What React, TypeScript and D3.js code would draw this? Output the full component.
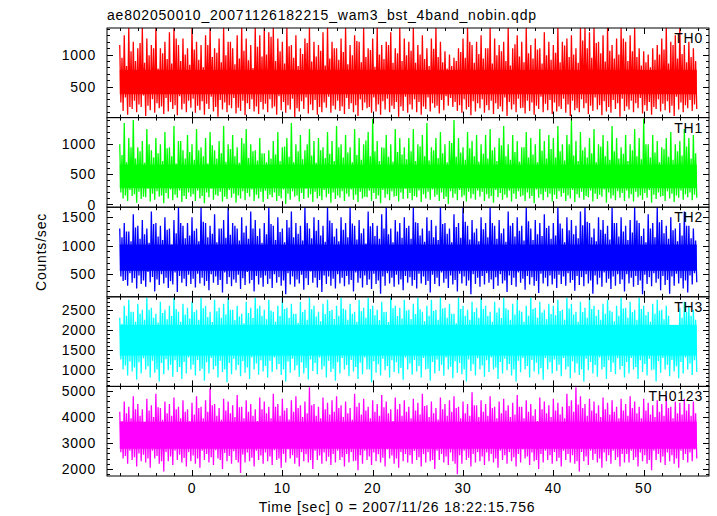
import React from "react";
import * as d3 from "d3";

// ---------- data (half-second bins from t = -8 s) ----------
// per bin: highest spike, secondary peak, secondary trough, lowest dip
const T_START = -8;
const BIN = 0.5;

const panelNames = ["TH0", "TH1", "TH2", "TH3", "TH0123"];
const panelColors = ["#ff0000", "#00ff00", "#0000ff", "#00ffff", "#ff00ff"];
const yDomains: [number, number][] = [
  [15, 1415],
  [-45, 1440],
  [105, 1675],
  [575, 2825],
  [1730, 5180],
];
const yTickValues = [
  [500, 1000],
  [0, 500, 1000],
  [500, 1000, 1500],
  [1000, 1500, 2000, 2500],
  [2000, 3000, 4000, 5000],
];
const yMinorSteps = [100, 100, 100, 100, 200];
// always-filled centre of each light curve [low, high]
const coreBands: [number, number][] = [
  [380, 760],
  [270, 660],
  [560, 1020],
  [1350, 2120],
  [2780, 3820],
];

const th0Max = [
  1150, 1300, 1415, 1200, 1100, 1415, 1250, 1150, 1415, 1100, 1200, 1350, 1415, 1150, 1250, 1100,
  1415, 1200, 1150, 1300, 1415, 1100, 1250, 1415, 1200, 1100, 1300, 1415, 1250, 1150, 1415, 1300,
  1415, 1350, 1415, 1250, 1200, 1415, 1150, 1300, 1100, 1250, 1415, 1200, 1150, 1350, 1415, 1200,
  1100, 1250, 1415, 1150, 1300, 1200, 1415, 1100, 1250, 1415, 1150, 1200, 1350, 1100, 1415, 1250,
  1200, 1415, 1150, 1300, 1100, 1250, 1415, 1200, 1050, 1000, 950, 1100, 1250, 1415, 1150, 1200,
  1300, 1100, 1415, 1250, 1150, 1200, 1415, 1100, 1300, 1200, 1415, 1150, 1250, 1100, 1350, 1200,
  1150, 1415, 1200, 1250, 1300, 1100, 1415, 1415, 1350, 1415, 1200, 1300, 1415, 1150, 1250, 1415,
  1200, 1300, 1415, 1100, 1050, 1000, 1100, 1150, 1250, 1415, 1200, 1300, 1415, 1150, 1200, 1100,
];
const th0Hi = [
  950, 820, 1050, 900, 1180, 870, 990, 1100, 780, 1020, 930, 860, 1250, 900, 1000, 840,
  1080, 920, 800, 1150, 960, 1030, 880, 990, 1200, 850, 940, 1060, 910, 790, 1120, 970,
  1000, 1280, 900, 1050, 860, 1130, 950, 820, 1010, 1180, 890, 970, 1060, 830, 940, 1100,
  920, 1040, 850, 990, 1210, 880, 960, 1070, 810, 1000, 930, 1150, 870, 1020, 900, 990,
  1060, 870, 1000, 930, 820, 1090, 960, 880, 780, 820, 900, 1040, 950, 1200, 870, 1010,
  940, 1100, 860, 990, 1050, 900, 830, 1160, 970, 880, 1020, 940, 1080, 860, 990, 920,
  1030, 880, 1140, 960, 1000, 870, 1220, 1100, 950, 1180, 1020, 890, 1060, 940, 1000, 1250,
  900, 1050, 960, 830, 880, 800, 920, 1000, 1080, 860, 1150, 940, 1010, 880, 960, 900,
];
const th0Lo = [
  250, 330, 180, 280, 220, 360, 200, 300, 240, 190, 320, 260, 210, 350, 230, 280,
  310, 200, 270, 230, 340, 180, 290, 250, 210, 320, 170, 280, 240, 300, 190, 260,
  230, 300, 190, 350, 260, 210, 310, 160, 270, 330, 220, 290, 180, 250, 340, 200,
  280, 190, 320, 240, 210, 300, 250, 180, 330, 220, 270, 310, 200, 260, 190, 340,
  220, 300, 260, 190, 330, 240, 200, 290, 350, 320, 260, 210, 300, 180, 270, 240,
  300, 210, 280, 240, 190, 330, 260, 220, 310, 170, 280, 250, 200, 340, 230, 290,
  250, 190, 310, 220, 280, 160, 300, 240, 200, 330, 210, 270, 180, 290, 240, 310,
  190, 280, 240, 320, 210, 260, 180, 300, 230, 270, 200, 340, 250, 210, 290, 220,
];
const th0Min = [
  120, 60, 150, 100, 180, 40, 130, 90, 160, 70, 110, 150, 50, 140, 100, 170,
  90, 130, 60, 150, 110, 30, 140, 100, 160, 80, 120, 50, 150, 110, 70, 140,
  100, 160, 60, 130, 90, 140, 20, 110, 150, 80, 130, 60, 100, 170, 90, 140,
  120, 70, 150, 100, 40, 130, 160, 90, 110, 60, 140, 100, 150, 30, 120, 90,
  140, 100, 60, 150, 110, 170, 80, 130, 200, 180, 120, 90, 140, 50, 110, 160,
  90, 130, 70, 150, 110, 40, 140, 100, 160, 80, 120, 60, 150, 100, 130, 70,
  110, 150, 90, 40, 130, 100, 160, 70, 120, 140, 50, 110, 90, 150, 30, 120,
  140, 100, 160, 80, 120, 60, 150, 110, 130, 90, 40, 140, 100, 160, 120, 150,
];
const th1Max = [
  1000, 1350, 1100, 1400, 950, 1050, 1250, 900, 1100, 1000, 1200, 950, 1300, 1050, 900, 1150,
  1000, 1250, 950, 1100, 1200, 900, 1050, 1300, 1000, 1150, 950, 1100, 1250, 1000, 900, 1100,
  850, 900, 1050, 1200, 950, 1100, 1350, 1000, 1150, 900, 1250, 1050, 1100, 950, 1200, 1050,
  1300, 1000, 1150, 950, 1250, 1100, 1000, 1200, 1420, 1050, 950, 1150, 1000, 1250, 1100, 950,
  1100, 1250, 1000, 1150, 1350, 950, 1100, 1200, 1000, 1050, 1400, 1100, 950, 1200, 1050, 1150,
  1000, 1150, 1250, 950, 1100, 1300, 1000, 1150, 1050, 950, 1200, 1100, 1000, 1250, 1050, 1150,
  1100, 1300, 1000, 1150, 1420, 1050, 1200, 950, 1100, 1250, 1000, 1150, 1050, 1300, 1100, 950,
  1150, 1000, 1250, 1100, 1420, 1000, 1150, 1050, 950, 1100, 1200, 1000, 1050, 1250, 1100, 1150,
];
const th1Hi = [
  820, 700, 950, 760, 880, 690, 1000, 780, 850, 720, 930, 800, 680, 1050, 760, 870,
  740, 900, 800, 680, 980, 760, 850, 710, 920, 800, 690, 1010, 770, 880, 730, 850,
  700, 760, 830, 720, 960, 790, 700, 880, 750, 1000, 810, 690, 900, 770, 840, 720,
  950, 780, 860, 700, 820, 740, 1060, 800, 880, 720, 940, 790, 710, 870, 830, 750,
  880, 720, 960, 800, 730, 900, 770, 850, 700, 1020, 790, 860, 740, 930, 800, 710,
  840, 760, 900, 720, 980, 800, 740, 870, 710, 950, 780, 830, 700, 890, 760, 920,
  780, 880, 730, 1000, 810, 720, 900, 780, 850, 700, 960, 800, 740, 880, 760, 840,
  720, 900, 800, 750, 1000, 780, 860, 700, 920, 790, 740, 880, 810, 960, 760, 850,
];
const th1Lo = [
  200, 150, 240, 170, 210, 130, 260, 180, 220, 150, 190, 250, 160, 230, 140, 200,
  170, 230, 140, 200, 260, 160, 210, 130, 240, 180, 150, 220, 190, 250, 160, 210,
  230, 160, 200, 140, 250, 180, 220, 150, 190, 260, 170, 210, 140, 240, 180, 200,
  150, 220, 180, 250, 160, 210, 130, 230, 190, 150, 240, 170, 220, 140, 200, 260,
  190, 140, 230, 170, 210, 250, 160, 200, 130, 220, 180, 240, 150, 210, 170, 230,
  210, 170, 140, 240, 190, 160, 230, 180, 220, 150, 200, 140, 250, 170, 210, 180,
  160, 220, 190, 150, 240, 170, 210, 140, 230, 180, 160, 250, 200, 150, 220, 190,
  230, 170, 210, 150, 190, 240, 160, 200, 140, 220, 180, 150, 230, 170, 200, 160,
];
const th1Min = [
  100, 60, 140, 30, 90, 120, 50, 80, 130, 20, 100, 70, 110, 40, 90, 130,
  60, 100, 20, 120, 80, 140, 50, 90, 110, 30, 100, 70, 130, 60, 100, 40,
  90, 120, 60, 100, 10, 80, 130, 50, 90, 110, 40, 100, 70, 120, 30, 90,
  110, 60, 130, 80, 40, 100, 120, 60, 90, 20, 110, 70, 130, 50, 90, 100,
  70, 120, 40, 100, 80, 130, 60, 90, 10, 110, 70, 120, 50, 100, 80, 130,
  60, 100, 30, 120, 80, 110, 50, 90, 130, 60, 100, 20, 110, 70, 120, 50,
  90, 130, 60, 100, 40, 110, 80, 120, 50, 90, 130, 30, 100, 70, 110, 60,
  100, 50, 120, 80, 110, 30, 90, 130, 60, 100, 40, 110, 80, 120, 70, 110,
];
const th2Max = [
  1300, 1400, 1250, 1550, 1350, 1450, 1300, 1600, 1400, 1350, 1500, 1300, 1450, 1675, 1350, 1400,
  1500, 1300, 1675, 1400, 1350, 1550, 1300, 1450, 1675, 1400, 1300, 1500, 1350, 1600, 1450, 1300,
  1400, 1675, 1350, 1500, 1300, 1450, 1600, 1400, 1350, 1675, 1300, 1500, 1450, 1350, 1675, 1400,
  1300, 1500, 1400, 1675, 1350, 1450, 1300, 1600, 1400, 1350, 1550, 1675, 1300, 1450, 1400, 1500,
  1350, 1675, 1400, 1300, 1500, 1450, 1350, 1675, 1400, 1300, 1550, 1400, 1675, 1350, 1450, 1300,
  1500, 1400, 1675, 1350, 1450, 1300, 1600, 1400, 1500, 1350, 1675, 1300, 1450, 1400, 1550, 1350,
  1400, 1675, 1300, 1500, 1450, 1350, 1600, 1675, 1400, 1300, 1500, 1450, 1350, 1675, 1400, 1500,
  1350, 1450, 1675, 1400, 1300, 1550, 1400, 1675, 1450, 1350, 1500, 1300, 1400, 1600, 1350, 1300,
];
const th2Hi = [
  1150, 1250, 1080, 1320, 1120, 1200, 1050, 1380, 1160, 1100, 1280, 1020, 1220, 1400, 1130, 1180,
  1260, 1080, 1420, 1150, 1210, 1060, 1300, 1140, 1190, 1350, 1090, 1230, 1120, 1300, 1170, 1050,
  1200, 1380, 1100, 1240, 1060, 1320, 1150, 1210, 1090, 1400, 1130, 1260, 1180, 1070, 1440, 1160,
  1080, 1280, 1150, 1390, 1110, 1220, 1040, 1340, 1170, 1120, 1300, 1200, 1060, 1250, 1140, 1310,
  1120, 1410, 1180, 1070, 1260, 1150, 1100, 1380, 1210, 1060, 1330, 1140, 1420, 1110, 1230, 1080,
  1290, 1150, 1400, 1120, 1220, 1070, 1350, 1160, 1260, 1090, 1430, 1100, 1200, 1170, 1310, 1120,
  1180, 1390, 1060, 1270, 1200, 1130, 1360, 1420, 1150, 1080, 1280, 1210, 1110, 1400, 1160, 1250,
  1100, 1230, 1440, 1170, 1060, 1300, 1150, 1410, 1220, 1120, 1270, 1080, 1180, 1350, 1130, 1090,
];
const th2Lo = [
  460, 400, 520, 430, 480, 390, 540, 450, 410, 500, 440, 380, 530, 470, 420, 490,
  420, 510, 440, 380, 500, 460, 400, 530, 450, 410, 490, 430, 540, 400, 470, 440,
  480, 420, 500, 450, 390, 520, 460, 410, 490, 430, 550, 440, 400, 480, 460, 420,
  500, 440, 470, 400, 530, 430, 480, 410, 510, 390, 460, 520, 440, 490, 410, 470,
  450, 400, 510, 460, 380, 490, 440, 530, 420, 480, 400, 510, 460, 390, 500, 440,
  470, 520, 410, 450, 500, 390, 480, 440, 530, 420, 470, 450, 380, 510, 440, 480,
  420, 490, 460, 520, 400, 470, 450, 500, 390, 480, 440, 530, 420, 460, 500, 410,
  500, 440, 470, 390, 490, 450, 520, 420, 470, 400, 460, 510, 430, 390, 480, 520,
];
const th2Min = [
  380, 300, 350, 250, 330, 280, 360, 200, 310, 340, 260, 320, 190, 350, 290, 330,
  270, 340, 300, 220, 350, 310, 180, 330, 290, 350, 240, 310, 340, 200, 320, 280,
  330, 260, 350, 300, 150, 320, 280, 340, 230, 310, 350, 270, 190, 330, 300, 250,
  340, 290, 320, 200, 350, 270, 310, 240, 330, 160, 300, 340, 280, 320, 220, 350,
  300, 250, 340, 310, 180, 330, 290, 350, 260, 320, 200, 340, 300, 150, 330, 280,
  320, 350, 240, 300, 340, 190, 310, 280, 350, 230, 320, 300, 170, 340, 290, 320,
  260, 330, 300, 350, 210, 310, 290, 340, 160, 320, 280, 350, 240, 300, 330, 200,
  340, 280, 310, 150, 330, 290, 350, 220, 310, 160, 300, 340, 250, 180, 320, 360,
];
const th3Max = [
  2300, 2600, 2750, 2450, 2650, 2500, 2800, 2550, 2400, 2700, 2500, 2600, 2800, 2450, 2650, 2550,
  2700, 2500, 2800, 2600, 2450, 2750, 2550, 2650, 2800, 2500, 2600, 2400, 2700, 2550, 2800, 2600,
  2500, 2750, 2450, 2600, 2800, 2550, 2650, 2400, 2700, 2500, 2800, 2600, 2450, 2650, 2750, 2500,
  2600, 2800, 2500, 2650, 2450, 2750, 2550, 2800, 2600, 2500, 2700, 2450, 2800, 2600, 2550, 2750,
  2500, 2650, 2800, 2450, 2600, 2750, 2500, 2800, 2550, 2650, 2400, 2800, 2600, 2500, 2700, 2550,
  2800, 2600, 2450, 2700, 2550, 2800, 2500, 2650, 2750, 2450, 2600, 2800, 2550, 2700, 2500, 2650,
  2600, 2750, 2500, 2800, 2650, 2450, 2700, 2550, 2800, 2600, 2500, 2650, 2750, 2450, 2600, 2800,
  2550, 2700, 2500, 2800, 2600, 2450, 2650, 2750, 2500, 2600, 2050, 2100, 2550, 2700, 2600, 2500,
];
const th3Hi = [
  2150, 2350, 2450, 2200, 2400, 2250, 2500, 2300, 2180, 2420, 2260, 2340, 2520, 2200, 2380, 2280,
  2440, 2250, 2540, 2320, 2190, 2460, 2300, 2380, 2500, 2240, 2330, 2160, 2420, 2290, 2530, 2350,
  2260, 2480, 2200, 2340, 2520, 2300, 2400, 2170, 2440, 2250, 2510, 2330, 2210, 2390, 2470, 2270,
  2350, 2530, 2250, 2400, 2200, 2460, 2300, 2520, 2360, 2240, 2440, 2190, 2540, 2340, 2280, 2480,
  2260, 2390, 2510, 2210, 2350, 2470, 2250, 2530, 2300, 2400, 2160, 2520, 2350, 2250, 2440, 2300,
  2520, 2340, 2200, 2430, 2290, 2540, 2250, 2380, 2480, 2200, 2350, 2520, 2300, 2430, 2260, 2390,
  2360, 2470, 2250, 2530, 2380, 2200, 2440, 2300, 2520, 2350, 2250, 2400, 2480, 2210, 2350, 2530,
  2300, 2440, 2250, 2520, 2360, 2200, 2400, 2480, 2260, 2350, 1950, 2000, 2300, 2440, 2350, 2250,
];
const th3Lo = [
  1250, 1100, 1200, 1050, 1180, 1280, 1080, 1220, 1000, 1160, 1260, 1120, 1230, 1060, 1190, 1300,
  1120, 1240, 1020, 1180, 1290, 1090, 1220, 1000, 1160, 1270, 1110, 1210, 1050, 1300, 1150, 1230,
  1090, 1220, 1300, 1140, 1000, 1200, 1270, 1100, 1180, 1040, 1250, 1160, 1300, 1080, 1220, 1020,
  1180, 1290, 1110, 1240, 1060, 1170, 1300, 1000, 1210, 1130, 1270, 1090, 1230, 1180, 1040, 1300,
  1150, 1240, 1090, 1290, 1020, 1190, 1250, 1120, 1300, 1070, 1210, 1160, 1000, 1250, 1130, 1280,
  1100, 1230, 1300, 1050, 1190, 1270, 1140, 1000, 1220, 1290, 1090, 1240, 1170, 1030, 1290, 1180,
  1250, 1120, 1290, 1070, 1210, 1150, 1000, 1270, 1190, 1110, 1300, 1060, 1230, 1170, 1280, 1090,
  1190, 1290, 1060, 1230, 1140, 1270, 1000, 1210, 1290, 1120, 1240, 1080, 1190, 1300, 1150, 1230,
];
const th3Min = [
  1000, 850, 950, 750, 900, 1000, 800, 920, 700, 880, 980, 820, 940, 760, 900, 1000,
  850, 960, 720, 900, 1000, 800, 940, 680, 880, 980, 830, 920, 760, 1000, 870, 950,
  800, 940, 1000, 860, 700, 920, 980, 820, 900, 750, 960, 880, 1000, 800, 940, 720,
  900, 1000, 830, 950, 760, 880, 1000, 680, 920, 850, 980, 800, 940, 900, 740, 1000,
  870, 950, 800, 1000, 720, 900, 960, 840, 1000, 780, 920, 880, 700, 960, 850, 1000,
  820, 940, 1000, 760, 900, 980, 850, 700, 930, 1000, 800, 950, 880, 740, 1000, 900,
  960, 830, 1000, 780, 920, 860, 700, 980, 900, 820, 1000, 760, 940, 880, 1000, 800,
  900, 1000, 760, 940, 850, 980, 700, 920, 1000, 830, 950, 780, 900, 1000, 860, 940,
];
const th0123Max = [
  4200, 4600, 4400, 4800, 4500, 4300, 4700, 4450, 4900, 4350, 4600, 4500, 4750, 4400, 4650, 4300,
  4550, 4800, 4400, 4650, 5100, 4500, 4350, 4700, 4600, 4450, 4850, 4400, 4650, 4500, 4300, 4750,
  4600, 4400, 4900, 4500, 4700, 4350, 4650, 4800, 4450, 4600, 5150, 4500, 4400, 4750, 4550, 4650,
  4800, 4450, 4600, 4350, 4900, 4550, 4700, 4400, 4650, 4500, 4850, 4600, 4300, 4750, 4500, 4650,
  4400, 4700, 4550, 4900, 4450, 4600, 4350, 4750, 4500, 4650, 4800, 4400, 4600, 4500, 4950, 4450,
  4650, 4500, 4800, 4400, 4600, 4700, 4450, 4550, 4850, 4400, 4650, 4500, 4300, 4750, 4600, 4450,
  4700, 4550, 4400, 4900, 4650, 5150, 4800, 4500, 4700, 4600, 4450, 4750, 4550, 4650, 4400, 4700,
  4500, 4800, 4600, 4400, 4700, 4550, 4450, 4650, 4500, 4800, 4400, 4600, 4550, 4700, 4500, 4600,
];
const th0123Hi = [
  3850, 4150, 3950, 4300, 4050, 3800, 4250, 4000, 4380, 3900, 4150, 4050, 4300, 3950, 4200, 3850,
  4100, 4350, 3950, 4200, 4450, 4050, 3900, 4250, 4150, 4000, 4380, 3950, 4200, 4050, 3850, 4300,
  4150, 3950, 4400, 4050, 4250, 3900, 4200, 4350, 4000, 4150, 4450, 4050, 3950, 4300, 4100, 4200,
  4350, 4000, 4150, 3900, 4400, 4100, 4250, 3950, 4200, 4050, 4380, 4150, 3850, 4300, 4050, 4200,
  3950, 4250, 4100, 4420, 4000, 4150, 3900, 4300, 4050, 4200, 4350, 3950, 4150, 4050, 4450, 4000,
  4200, 4050, 4350, 3950, 4150, 4250, 4000, 4100, 4400, 3950, 4200, 4050, 3850, 4300, 4150, 4000,
  4250, 4100, 3950, 4420, 4200, 4480, 4350, 4050, 4250, 4150, 4000, 4300, 4100, 4200, 3950, 4250,
  4050, 4350, 4150, 3950, 4250, 4100, 4000, 4200, 4050, 4350, 3950, 4150, 4100, 4250, 4050, 4150,
];
const th0123Lo = [
  2650, 2500, 2700, 2450, 2600, 2550, 2400, 2700, 2500, 2300, 2650, 2480, 2700, 2550, 2420, 2650,
  2520, 2400, 2700, 2580, 2450, 2720, 2350, 2620, 2500, 2680, 2250, 2560, 2640, 2430, 2700, 2520,
  2640, 2480, 2720, 2400, 2580, 2750, 2530, 2430, 2650, 2570, 2350, 2700, 2520, 2640, 2470, 2580,
  2700, 2450, 2580, 2650, 2320, 2530, 2700, 2480, 2640, 2570, 2430, 2750, 2520, 2400, 2650, 2580,
  2530, 2690, 2450, 2580, 2650, 2350, 2700, 2580, 2480, 2640, 2200, 2530, 2700, 2430, 2580, 2650,
  2480, 2640, 2580, 2400, 2700, 2530, 2650, 2450, 2580, 2750, 2480, 2640, 2350, 2580, 2700, 2530,
  2650, 2430, 2700, 2580, 2530, 2300, 2650, 2480, 2700, 2580, 2400, 2640, 2530, 2700, 2450, 2580,
  2580, 2700, 2450, 2640, 2530, 2350, 2700, 2580, 2480, 2640, 2530, 2400, 2700, 2580, 2640, 2750,
];
const th0123Min = [
  2400, 2200, 2350, 2100, 2300, 2250, 2050, 2400, 2200, 1900, 2300, 2150, 2350, 2250, 2100, 2300,
  2200, 2050, 2350, 2250, 2150, 2400, 2000, 2300, 2200, 2350, 1850, 2250, 2300, 2100, 2350, 2200,
  2300, 2150, 2350, 2050, 2250, 2400, 2200, 2100, 2300, 2250, 2000, 2350, 2200, 2300, 2150, 2250,
  2350, 2100, 2250, 2300, 1950, 2200, 2350, 2150, 2300, 2250, 2100, 2400, 2200, 2050, 2300, 2250,
  2200, 2350, 2100, 2250, 2300, 2000, 2350, 2250, 2150, 2300, 1800, 2200, 2350, 2100, 2250, 2300,
  2150, 2300, 2250, 2050, 2350, 2200, 2300, 2100, 2250, 2400, 2150, 2300, 2000, 2250, 2350, 2200,
  2300, 2100, 2350, 2250, 2200, 1900, 2300, 2150, 2350, 2250, 2050, 2300, 2200, 2350, 2100, 2250,
  2250, 2350, 2100, 2300, 2200, 1950, 2350, 2250, 2150, 2300, 2200, 2050, 2350, 2250, 2300, 2400,
];

const seriesMax = [th0Max, th1Max, th2Max, th3Max, th0123Max];
const seriesHi = [th0Hi, th1Hi, th2Hi, th3Hi, th0123Hi];
const seriesLo = [th0Lo, th1Lo, th2Lo, th3Lo, th0123Lo];
const seriesMin = [th0Min, th1Min, th2Min, th3Min, th0123Min];

const xDomain: [number, number] = [-9.41, 57.23];
const xTickValues = [0, 10, 20, 30, 40, 50];
const titleText = "ae802050010_20071126182215_wam3_bst_4band_nobin.qdp";
const xLabel = "Time [sec] 0 = 2007/11/26 18:22:15.756";
const yLabel = "Counts/sec";

// ---------- layout ----------
const W = 717;
const H = 516;
const L = 107;
const R = 709;
const TOP = 28;
const BOT = 476;
const NP = panelNames.length;
const PH = (BOT - TOP) / NP;
const FONT = "'Liberation Sans', Arial, Helvetica, sans-serif";
const FS = 14;
const LS = 0.8;

export default function App() {
  const x = d3.scaleLinear().domain(xDomain).range([L, R]);
  const xMinor = d3.range(-8, 57, 2);

  return (
    <svg width={W} height={H} style={{ position: "absolute", left: 0, top: 0, background: "#fff" }}>
      <defs>
        {panelNames.map((_, p) => (
          <clipPath id={`clip${p}`} key={p}>
            <rect x={L} y={TOP + p * PH} width={R - L} height={PH} />
          </clipPath>
        ))}
      </defs>
      <rect x={0} y={0} width={W} height={H} fill="#fff" />
      <text x={L} y={20} fontFamily={FONT} fontSize={FS} letterSpacing={LS} fill="#000">
        {titleText}
      </text>

      {panelNames.map((name, p) => {
        const y0 = TOP + p * PH;
        const y1 = y0 + PH;
        const y = d3.scaleLinear().domain(yDomains[p]).range([y1, y0]);
        const pts: [number, number][] = [];
        seriesMax[p].forEach((mx, i) => {
          const t = T_START + i * BIN;
          pts.push([t, mx]);
          pts.push([t + BIN / 4, seriesLo[p][i]]);
          pts.push([t + BIN / 2, seriesHi[p][i]]);
          pts.push([t + (3 * BIN) / 4, seriesMin[p][i]]);
        });
        const line = d3
          .line<[number, number]>()
          .x((d) => x(d[0]))
          .y((d) => y(d[1]));
        const tEnd = T_START + (seriesMax[p].length - 0.25) * BIN;
        const [dlo, dhi] = yDomains[p];
        const minorYs = d3.range(Math.ceil(dlo / yMinorSteps[p]) * yMinorSteps[p], dhi, yMinorSteps[p]);
        const col = panelColors[p];
        return (
          <g key={name}>
            <g clipPath={`url(#clip${p})`}>
              <rect
                x={x(T_START)}
                width={x(tEnd) - x(T_START)}
                y={y(coreBands[p][1])}
                height={y(coreBands[p][0]) - y(coreBands[p][1])}
                fill={col}
              />
              <path d={line(pts) || ""} fill="none" stroke={col} strokeWidth={1.3} strokeLinejoin="miter" />
            </g>
            {xMinor.map((t) => {
              const major = t % 10 === 0;
              const len = major ? 6 : 3;
              const xx = Math.round(x(t)) + 0.5;
              return (
                <g key={`xt${t}`} stroke="#000" strokeWidth={1}>
                  <line x1={xx} x2={xx} y1={y0} y2={y0 + len} />
                  <line x1={xx} x2={xx} y1={y1} y2={y1 - len} />
                </g>
              );
            })}
            {minorYs.map((v) => {
              const major = yTickValues[p].includes(v);
              const len = major ? 6 : 3;
              const yy = Math.round(y(v)) + 0.5;
              return (
                <g key={`yt${v}`} stroke="#000" strokeWidth={1}>
                  <line x1={L} x2={L + len} y1={yy} y2={yy} />
                  <line x1={R} x2={R - len} y1={yy} y2={yy} />
                </g>
              );
            })}
            {yTickValues[p].map((v) => (
              <text
                key={`yl${v}`}
                x={96}
                y={y(v)}
                dy="0.36em"
                textAnchor="end"
                fontFamily={FONT}
                fontSize={FS}
                letterSpacing={LS}
                fill="#000"
              >
                {v}
              </text>
            ))}
            <text
              x={703}
              y={y0 + 15}
              textAnchor="end"
              fontFamily={FONT}
              fontSize={FS}
              letterSpacing={LS}
              fill="#000"
            >
              {name}
            </text>
            <rect x={L} y={y0} width={R - L} height={PH} fill="none" stroke="#000" strokeWidth={1} />
          </g>
        );
      })}

      {xTickValues.map((t) => (
        <text
          key={`xl${t}`}
          x={x(t)}
          y={493}
          textAnchor="middle"
          fontFamily={FONT}
          fontSize={FS}
          letterSpacing={LS}
          fill="#000"
        >
          {t}
        </text>
      ))}
      <text x={397} y={512} textAnchor="middle" fontFamily={FONT} fontSize={FS} letterSpacing={LS} fill="#000">
        {xLabel}
      </text>
      <text
        transform={`translate(46,${(TOP + BOT) / 2}) rotate(-90)`}
        textAnchor="middle"
        fontFamily={FONT}
        fontSize={FS}
        letterSpacing={LS}
        fill="#000"
      >
        {yLabel}
      </text>
    </svg>
  );
}
